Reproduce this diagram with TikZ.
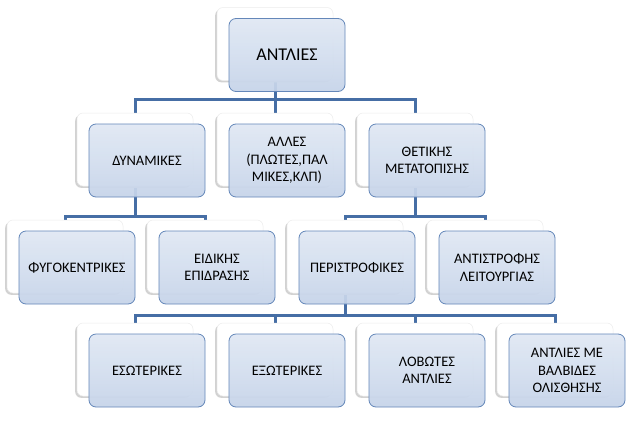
\documentclass[tikz,border=0pt]{standalone}
\usepackage{fontspec}
\setmainfont{Carlito}
\usetikzlibrary{calc}
\definecolor{conncol}{RGB}{70,110,165}
\definecolor{frontdraw}{RGB}{100,135,185}
\definecolor{fronttop}{RGB}{224,232,244}
\definecolor{frontbot}{RGB}{198,212,233}
\pgfdeclarelayer{bg}
\pgfsetlayers{bg,main}
\newcommand\mkbox[4]{%
  \node[rimbox] at (#2-1.8,#3+1.8) {};
  \node[backbox] (#1b) at (#2,#3) {};
  \node[frontbox] (#1) at (#2+12,#3+11) {#4};
}
\begin{document}
\begin{tikzpicture}[x=1pt,y=-1pt,
  rimbox/.style={minimum width=116pt,minimum height=73pt,rounded corners=6pt,fill=gray!35,inner sep=0pt},
  backbox/.style={minimum width=116pt,minimum height=73pt,rounded corners=6pt,fill=white,draw=gray!15,line width=0.5pt,inner sep=0pt},
  frontbox/.style={minimum width=116pt,minimum height=73pt,rounded corners=7pt,draw=frontdraw,line width=0.8pt,top color=fronttop,bottom color=frontbot,fill opacity=0.93,text opacity=1,align=center,font=\fontsize{14.5}{17.5}\selectfont,text=black,inner sep=2pt},
  conn/.style={draw=conncol,line width=3pt}]
\useasboundingbox (0,0) rectangle (637,426);
% level 1
\mkbox{top}{275}{44}{\fontsize{18}{21}\selectfont ΑΝΤΛΙΕΣ}
% level 2
\mkbox{dyn}{135}{149.5}{ΔΥΝΑΜΙΚΕΣ}
\mkbox{all}{275}{149.5}{ΑΛΛΕΣ\\(ΠΛΩΤΕΣ,ΠΑΛ\\ΜΙΚΕΣ,ΚΛΠ)}
\mkbox{thet}{415}{149.5}{ΘΕΤΙΚΗΣ\\ΜΕΤΑΤΟΠΙΣΗΣ}
% level 3
\mkbox{fyg}{65}{256.5}{ΦΥΓΟΚΕΝΤΡΙΚΕΣ}
\mkbox{eid}{205}{256.5}{ΕΙΔΙΚΗΣ\\ΕΠΙΔΡΑΣΗΣ}
\mkbox{per}{345}{256.5}{ΠΕΡΙΣΤΡΟΦΙΚΕΣ}
\mkbox{ant}{485}{256.5}{ΑΝΤΙΣΤΡΟΦΗΣ\\ΛΕΙΤΟΥΡΓΙΑΣ}
% level 4
\mkbox{eso}{135}{359.5}{ΕΣΩΤΕΡΙΚΕΣ}
\mkbox{exo}{275}{359.5}{ΕΞΩΤΕΡΙΚΕΣ}
\mkbox{lob}{415}{359.5}{ΛΟΒΩΤΕΣ\\ΑΝΤΛΙΕΣ}
\mkbox{val}{555}{359.5}{ΑΝΤΛΙΕΣ ΜΕ\\ΒΑΛΒΙΔΕΣ\\ΟΛΙΣΘΗΣΗΣ}
\begin{pgfonlayer}{bg}
  \fill[white] (0,0) rectangle (637,426);
  \coordinate (j1) at ($(topb.south |- 0,99)$);
  \draw[conn] (topb.south) -- (j1);
  \draw[conn] (dynb.north) |- (j1) -| (thetb.north);
  \draw[conn] (j1) -- (allb.north);
  \coordinate (j2) at ($(dynb.south |- 0,216)$);
  \draw[conn] (dynb.south) -- (j2);
  \draw[conn] (fygb.north) |- (j2) -| (eidb.north);
  \coordinate (j3) at ($(thetb.south |- 0,216)$);
  \draw[conn] (thetb.south) -- (j3);
  \draw[conn] (perb.north) |- (j3) -| (antb.north);
  \coordinate (j4) at ($(perb.south |- 0,315)$);
  \draw[conn] (perb.south) -- (j4);
  \draw[conn] (esob.north) |- (j4) -| (valb.north);
  \draw[conn] (exob.north) -- (exob.north |- j4);
  \draw[conn] (lobb.north) -- (lobb.north |- j4);
\end{pgfonlayer}
\end{tikzpicture}
\end{document}
